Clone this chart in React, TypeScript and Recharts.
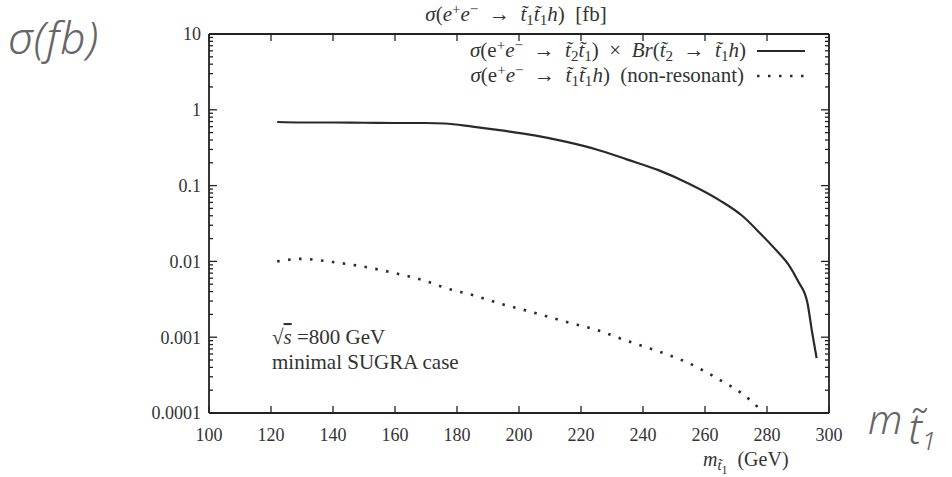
import React from 'react';
import { LineChart, Line, XAxis, YAxis } from 'recharts';

// stop mass m_t1 (GeV)
const massGeV = [122, 130, 140, 150, 160, 170, 176, 185, 195, 205, 215, 225, 235, 245, 255, 265, 272, 278, 283, 287, 290, 293, 294.5, 296];
// sigma(e+e- -> t2 t1) x Br(t2 -> t1 h) [fb]
const resonant = [0.69, 0.68, 0.68, 0.675, 0.67, 0.67, 0.66, 0.60, 0.53, 0.46, 0.38, 0.30, 0.22, 0.16, 0.105, 0.063, 0.040, 0.023, 0.014, 0.009, 0.0055, 0.0029, 0.0012, 0.00053];
// sigma(e+e- -> t1 t1 h) non-resonant [fb]
const nonResonant: (number | null)[] = [0.0100, 0.0108, 0.0098, 0.0085, 0.0070, 0.0055, 0.0045, 0.0036, 0.0027, 0.0021, 0.0016, 0.00125, 0.00089, 0.00065, 0.00045, 0.00027, 0.00018, 0.00011, null, null, null, null, null, null];

const xTicks = [100, 120, 140, 160, 180, 200, 220, 240, 260, 280, 300];
const yMajorTicks = [0.0001, 0.001, 0.01, 0.1, 1, 10];
const yTickLabels = ['0.0001', '0.001', '0.01', '0.1', '1', '10'];
const yMinorMultipliers = [2, 3, 4, 5, 6, 7, 8, 9];
const yAllTicks = [
  ...yMajorTicks,
  ...yMajorTicks.slice(0, -1).flatMap((d) => yMinorMultipliers.map((m) => +(m * d).toPrecision(3))),
];

const data = massGeV.map((m, i) => ({ m, res: resonant[i], nonres: nonResonant[i] }));

const FONT = '"Liberation Serif", "DejaVu Serif", serif';
const INK = '#222';
const SP = '\u2002';

const isMajor = (v: number) => yMajorTicks.findIndex((t) => Math.abs(Math.log10(t) - Math.log10(v)) < 1e-6);

const LeftTick = (props: any) => {
  const { x, y, payload } = props;
  const idx = isMajor(payload.value);
  const len = idx >= 0 ? 8 : 4;
  return (
    <g>
      <line x1={x} x2={x + len} y1={y} y2={y} stroke={INK} strokeWidth={1.3} />
      {idx >= 0 && (
        <text x={x - 8} y={y} dy="0.35em" textAnchor="end" fontFamily={FONT} fontSize={18} fill="#333">
          {yTickLabels[idx]}
        </text>
      )}
    </g>
  );
};

const RightTick = (props: any) => {
  const { x, y, payload } = props;
  const len = isMajor(payload.value) >= 0 ? 8 : 4;
  return <line x1={x - len} x2={x} y1={y} y2={y} stroke={INK} strokeWidth={1.3} />;
};

const BottomTick = (props: any) => {
  const { x, y, payload } = props;
  return (
    <g>
      <line x1={x} x2={x} y1={y} y2={y - 7} stroke={INK} strokeWidth={1.3} />
      <text x={x} y={y + 28} textAnchor="middle" fontFamily={FONT} fontSize={18} fill="#333">
        {payload.value}
      </text>
    </g>
  );
};

const TopTick = (props: any) => {
  const { x, y } = props;
  return <line x1={x} x2={x} y1={y} y2={y + 7} stroke={INK} strokeWidth={1.3} />;
};

type Seg = [string, number, number];
const mathSpans = (segs: Seg[]) => {
  let cur = 0;
  const offs: Record<number, number> = { 0: 0, 1: -7, [-1]: 4, [-2]: 8 };
  return segs.map(([txt, pos, it], i) => {
    const target = offs[pos];
    const dy = target - cur;
    cur = target;
    return (
      <tspan key={i} dy={dy} fontSize={pos === 0 ? undefined : pos === -2 ? '0.6em' : '0.72em'} fontStyle={it ? 'italic' : 'normal'}>
        {txt}
      </tspan>
    );
  });
};

const ARROW = `${SP}→${SP}`;
const titleSegs: Seg[] = [['σ', 0, 1], ['(', 0, 0], ['e', 0, 1], ['+', 1, 0], ['e', 0, 1], ['−', 1, 0], [ARROW, 0, 0], ['t̃', 0, 1], ['1', -1, 0], ['t̃', 0, 1], ['1', -1, 0], ['h', 0, 1], [`)${SP}[fb]`, 0, 0]];
const legend1Segs: Seg[] = [['σ', 0, 1], ['(', 0, 0], ['e', 0, 0], ['+', 1, 0], ['e', 0, 1], ['−', 1, 0], [ARROW, 0, 0], ['t̃', 0, 1], ['2', -1, 0], ['t̃', 0, 1], ['1', -1, 0], [`)${SP}×${SP}`, 0, 0], ['Br', 0, 1], ['(', 0, 0], ['t̃', 0, 1], ['2', -1, 0], [ARROW, 0, 0], ['t̃', 0, 1], ['1', -1, 0], ['h', 0, 1], [')', 0, 0]];
const legend2Segs: Seg[] = [['σ', 0, 1], ['(e', 0, 0], ['+', 1, 0], ['e', 0, 1], ['−', 1, 0], [ARROW, 0, 0], ['t̃', 0, 1], ['1', -1, 0], ['t̃', 0, 1], ['1', -1, 0], ['h', 0, 1], [`)${SP}(non-resonant)`, 0, 0]];
const xLabelSegs: Seg[] = [['m', 0, 1], ['t̃', -1, 1], ['1', -2, 0], [`${SP}(GeV)`, 0, 0]];

export default function App() {
  return (
    <div style={{ position: 'absolute', left: 0, top: 0, width: 952, height: 477, background: '#fff' }}>
      <LineChart width={952} height={477} data={data} margin={{ top: 4, right: 63, bottom: 34, left: 149 }}>
        <XAxis
          dataKey="m"
          type="number"
          domain={[100, 300]}
          ticks={xTicks}
          interval={0}
          allowDataOverflow
          height={30}
          tickSize={0}
          tickMargin={0}
          tick={BottomTick}
          tickLine={false}
          axisLine={{ stroke: INK, strokeWidth: 1.8 }}
        />
        <XAxis
          xAxisId="top"
          orientation="top"
          dataKey="m"
          type="number"
          domain={[100, 300]}
          ticks={xTicks}
          interval={0}
          allowDataOverflow
          height={30}
          tickSize={0}
          tickMargin={0}
          tick={TopTick}
          tickLine={false}
          axisLine={{ stroke: INK, strokeWidth: 1.8 }}
        />
        <YAxis
          type="number"
          scale="log"
          domain={[0.0001, 10]}
          ticks={yAllTicks}
          interval={0}
          allowDataOverflow
          width={60}
          tickSize={0}
          tickMargin={0}
          tick={LeftTick}
          tickLine={false}
          axisLine={{ stroke: INK, strokeWidth: 1.8 }}
        />
        <YAxis
          yAxisId="right"
          orientation="right"
          type="number"
          scale="log"
          domain={[0.0001, 10]}
          ticks={yAllTicks}
          interval={0}
          allowDataOverflow
          width={60}
          tickSize={0}
          tickMargin={0}
          tick={RightTick}
          tickLine={false}
          axisLine={{ stroke: INK, strokeWidth: 1.8 }}
        />
        <Line
          type="monotone"
          dataKey="res"
          stroke="#2a2a2a"
          strokeWidth={2.2}
          dot={false}
          isAnimationActive={false}
        />
        <Line
          type="monotone"
          dataKey="nonres"
          stroke="#2a2a2a"
          strokeWidth={2.6}
          strokeDasharray="2.5 8.5"
          dot={false}
          connectNulls={false}
          isAnimationActive={false}
        />
      </LineChart>
      <svg width={952} height={477} style={{ position: 'absolute', left: 0, top: 0, pointerEvents: 'none' }}>
        <text x={516} y={21} textAnchor="middle" fontFamily={FONT} fontSize={21} fill="#333">
          {mathSpans(titleSegs)}
        </text>
        <text x={746} y={57} textAnchor="end" fontFamily={FONT} fontSize={21} fill="#333">
          {mathSpans(legend1Segs)}
        </text>
        <line x1={757} x2={805} y1={51} y2={51} stroke="#2a2a2a" strokeWidth={2.2} />
        <text x={744} y={82} textAnchor="end" fontFamily={FONT} fontSize={21} fill="#333">
          {mathSpans(legend2Segs)}
        </text>
        <line x1={757} x2={812} y1={76} y2={76} stroke="#2a2a2a" strokeWidth={2.6} strokeDasharray="2.5 8.5" />
        <text x={272} y={344} fontFamily={FONT} fontSize={21} fill="#333">
          <tspan>√</tspan>
          <tspan fontStyle="italic" textDecoration="overline">s</tspan>
          <tspan> =800 GeV</tspan>
        </text>
        <text x={272} y={369} fontFamily={FONT} fontSize={21} fill="#333">
          minimal SUGRA case
        </text>
        <text x={703} y={466} fontFamily={FONT} fontSize={20} fill="#333">
          {mathSpans(xLabelSegs)}
        </text>
        <text x={8} y={54} fontFamily='"Noto Sans", sans-serif' fontStyle="italic" fontWeight={300} fontSize={44} letterSpacing={1} fill="#666">
          σ(fb)
        </text>
        <text x={868} y={434} fontFamily='"Noto Sans", sans-serif' fontStyle="italic" fontWeight={300} fontSize={40} fill="#666">
          m
          <tspan dx={6} dy={10} fontSize={42}>t̃</tspan>
          <tspan dy={6} fontSize={26}>1</tspan>
        </text>
      </svg>
    </div>
  );
}
